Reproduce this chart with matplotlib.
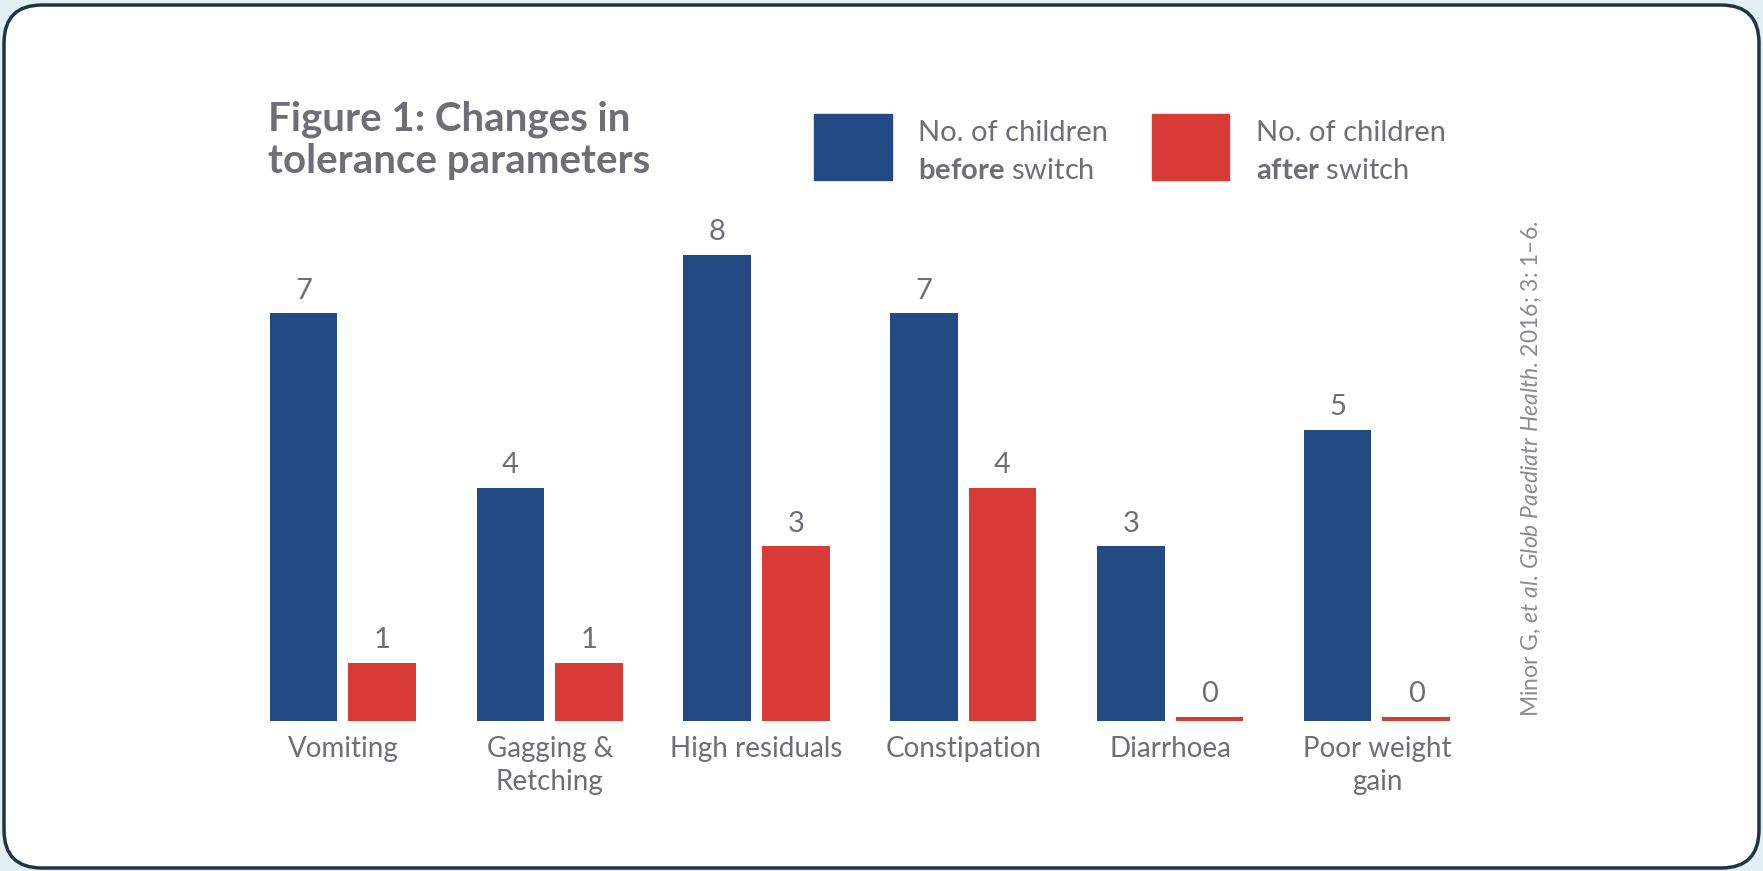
import numpy as np
import matplotlib.pyplot as plt
from matplotlib.patches import FancyBboxPatch, Rectangle

categories = ['Vomiting', 'Gagging &\nRetching', 'High residuals', 'Constipation',
              'Diarrhoea', 'Poor weight\ngain']
before = [7, 4, 8, 7, 3, 5]
after = [1, 1, 3, 4, 0, 0]

blue = '#244a84'
red = '#d83a35'
grey = '#6e6f76'

plt.rcParams['font.family'] = ['Lato', 'DejaVu Sans']
plt.rcParams['mathtext.fontset'] = 'custom'
plt.rcParams['mathtext.rm'] = 'Lato'
plt.rcParams['mathtext.it'] = 'Lato:italic'
plt.rcParams['mathtext.bf'] = 'Lato:bold'

W, H = 1763, 871
fig = plt.figure(figsize=(W / 100, H / 100), dpi=100, facecolor='#e2f0f5')


def fx(px):
    return px / W


def fy(py):
    return 1 - py / H


# rounded white card
card = FancyBboxPatch((4, 3), W - 8, H - 8, boxstyle='round,pad=0,rounding_size=38',
                      transform=None, facecolor='white', edgecolor='#1d3547',
                      linewidth=2.5, zorder=-10)
fig.patches.append(card)

ax = fig.add_axes([fx(239.5), fy(721), fx(1240.8), (721 - 255) / H])
ax.set_facecolor('none')
ax.set_zorder(5)
x = np.arange(len(categories))
w = 0.326
after_h = np.where(np.array(after) == 0, 0.07, after)
ax.bar(x - 0.19, before, w, color=blue)
ax.bar(x + 0.19, after_h, w, color=red)

for xi, v in zip(x, before):
    ax.annotate(str(v), (xi - 0.19, v), xytext=(0, 7), textcoords='offset points',
                ha='center', va='bottom', fontsize=21, color=grey)
for xi, v, hh in zip(x, after, after_h):
    ax.annotate(str(v), (xi + 0.19, hh), xytext=(0, 7), textcoords='offset points',
                ha='center', va='bottom', fontsize=21, color=grey)

ax.set_xlim(-0.5, 5.5)
ax.set_ylim(0, 8)
ax.set_yticks([])
ax.set_xticks(x)
ax.set_xticklabels(categories, fontsize=20, color=grey, linespacing=1.3)
ax.tick_params(axis='x', length=0, pad=11)
for s in ax.spines.values():
    s.set_visible(False)

# title
fig.text(fx(268), fy(100), 'Figure 1: Changes in\ntolerance parameters', fontsize=29,
         fontweight='bold', color=grey, va='top', ha='left', linespacing=1.18)

# legend
fig.add_artist(Rectangle((fx(814), fy(180)), fx(78), (180 - 114) / H,
                         transform=fig.transFigure, color=blue))
fig.add_artist(Rectangle((fx(1152), fy(180)), fx(77), (180 - 114) / H,
                         transform=fig.transFigure, color=red))
fig.text(fx(918), fy(133), 'No. of children', fontsize=21, color=grey, va='center')
fig.text(fx(918), fy(171), r'$\mathbf{before}$ switch', fontsize=21, color=grey, va='center')
fig.text(fx(1256), fy(133), 'No. of children', fontsize=21, color=grey, va='center')
fig.text(fx(1256), fy(171), r'$\mathbf{after}$ switch', fontsize=21, color=grey, va='center')

# source
fig.text(fx(1531), fy(469),
         r'Minor G, $\mathit{et\ al.}\,\mathit{Glob\ Paediatr\ Health}$. 2016; 3: 1–6.',
         rotation=90, fontsize=16.5, color='#8a8b90', ha='center', va='center')

fig.savefig('out.png', dpi=100, facecolor=fig.get_facecolor())
